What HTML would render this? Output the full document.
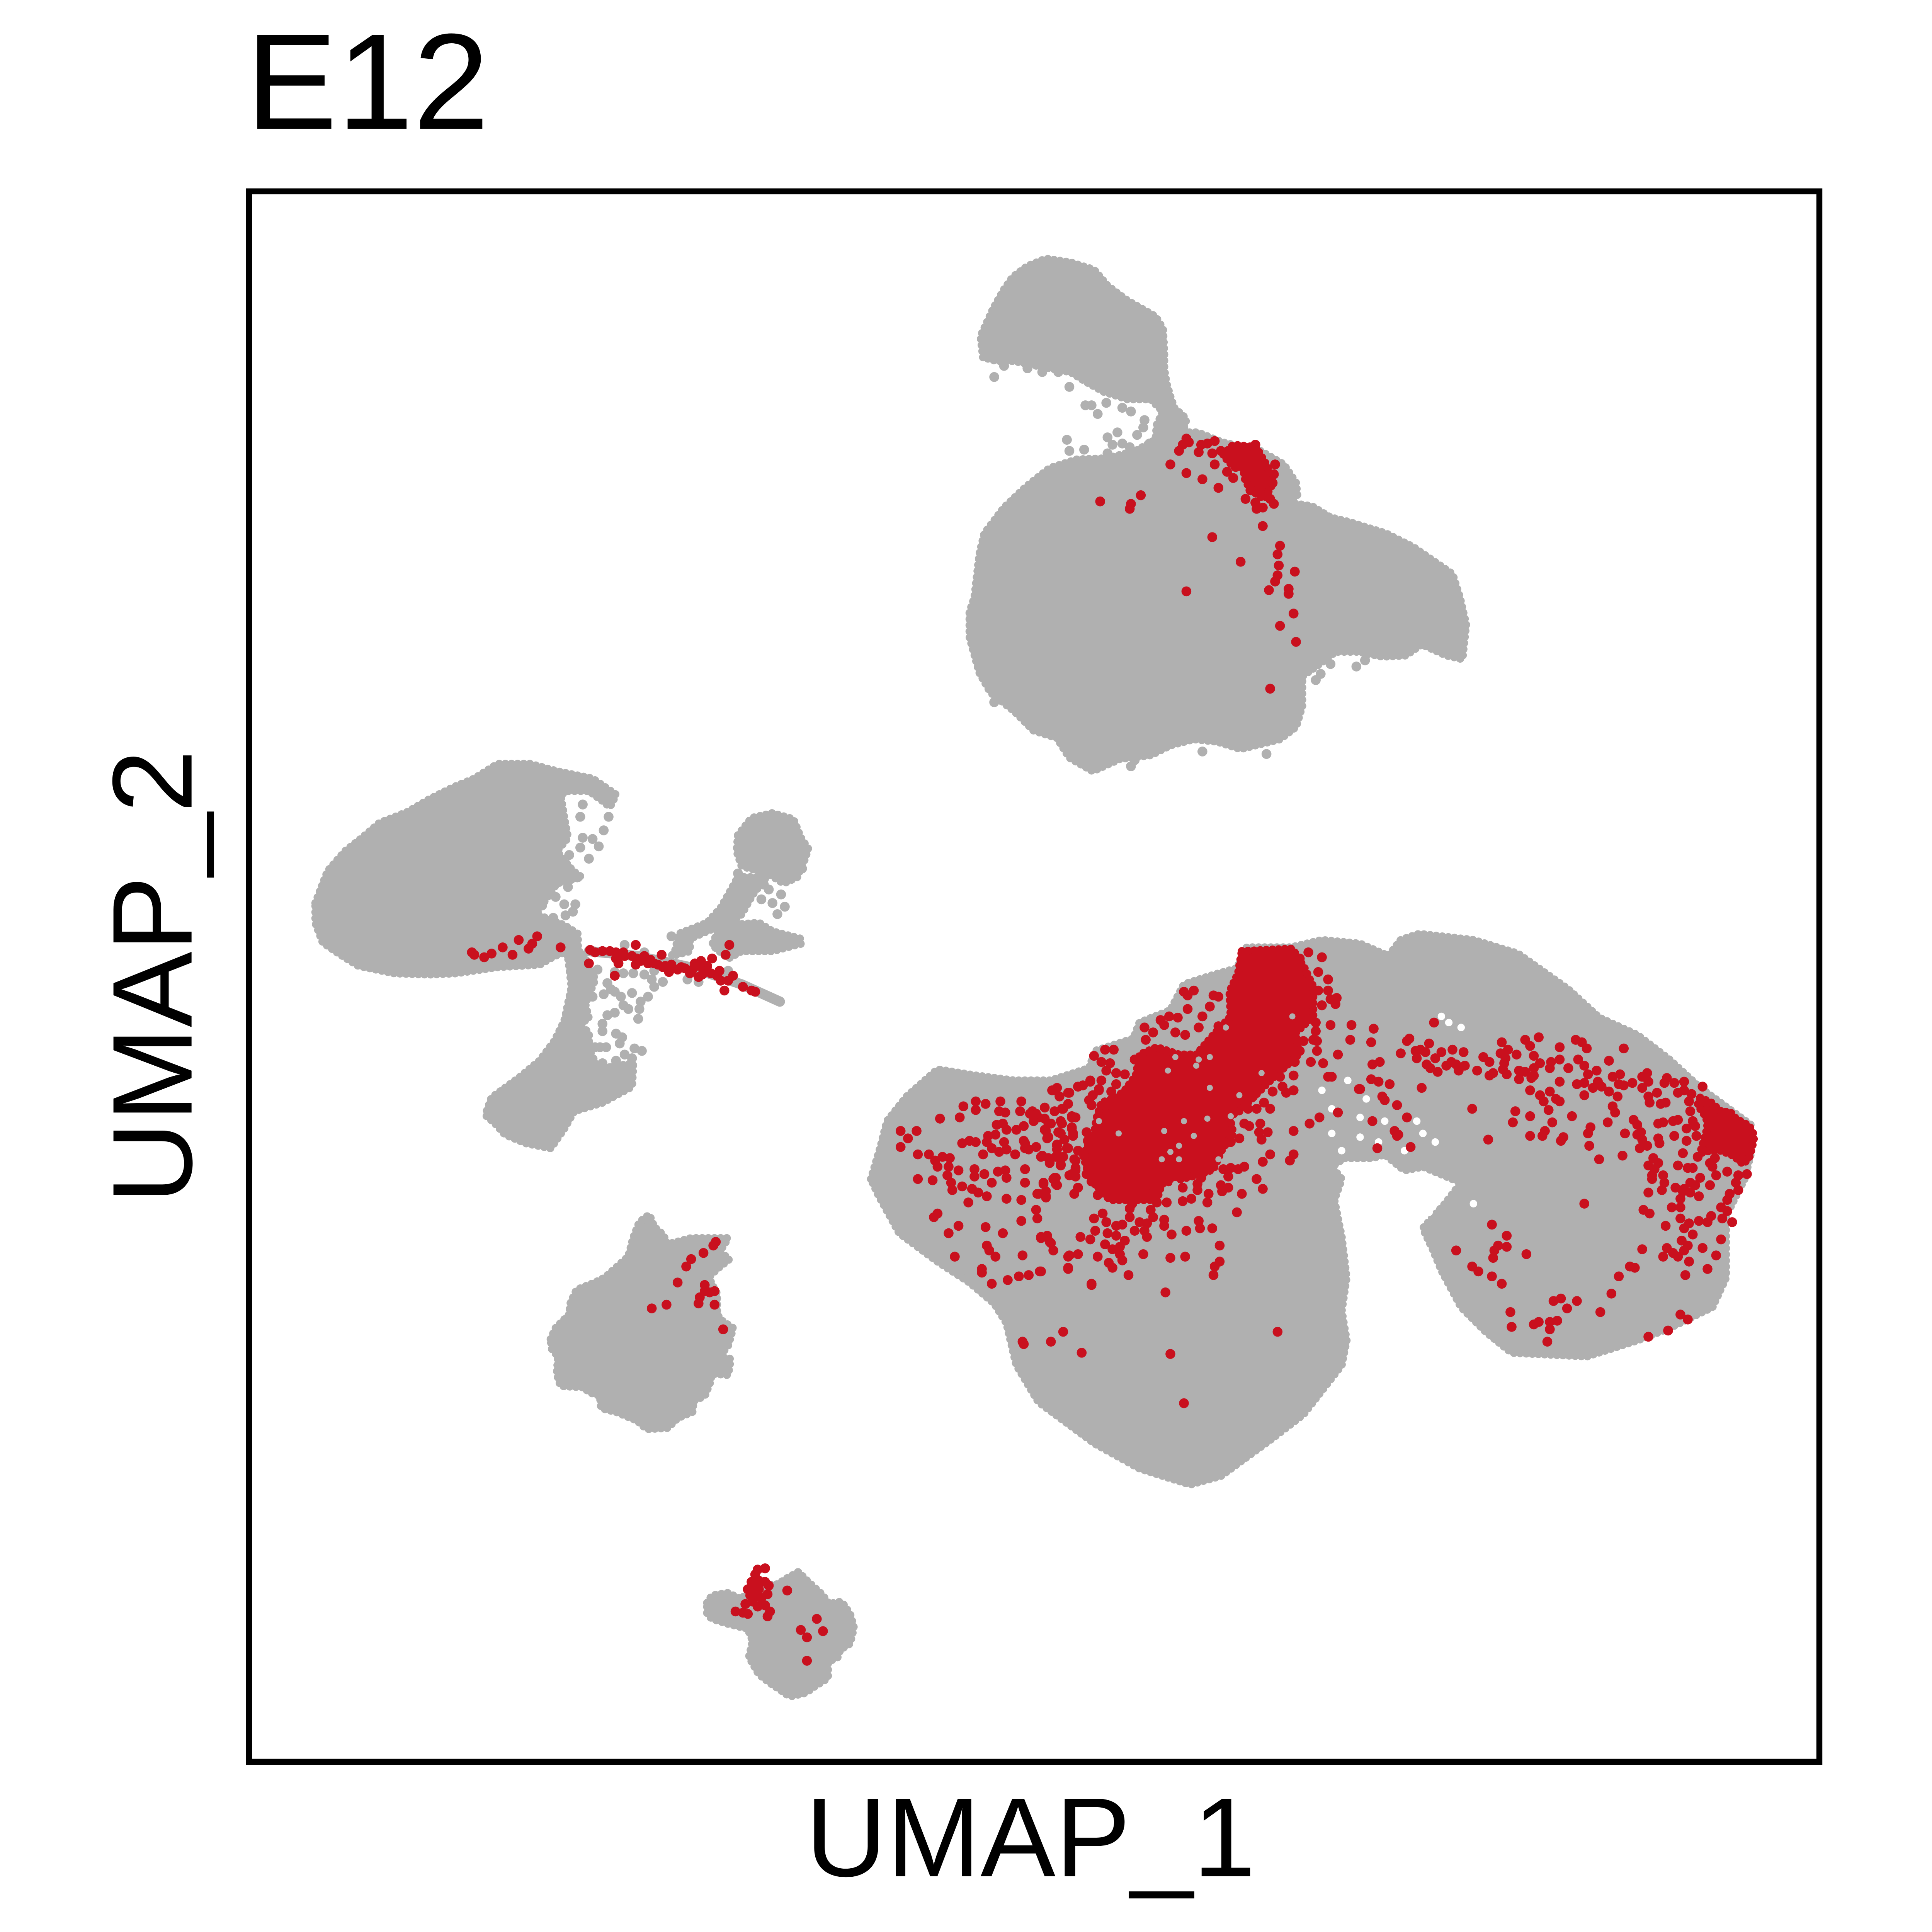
<!DOCTYPE html>
<html lang="en">
<head>
<meta charset="utf-8">
<title>E12 UMAP</title>
<style>
html,body{margin:0;padding:0;background:#fff;width:100%;height:100%;overflow:hidden;}
svg{display:block;position:absolute;left:0;top:0;width:100vw;height:100vh;}
text{font-family:"Liberation Sans",Arial,sans-serif;fill:#000;}
</style>
</head>
<body>
<svg id="chart" xmlns="http://www.w3.org/2000/svg" viewBox="0 0 5669 5669" preserveAspectRatio="none">
  <rect x="0" y="0" width="5669" height="5669" fill="#fff"/>
  <g id="marks"></g>
  <rect x="730.5" y="561.5" width="4608" height="4608" fill="none" stroke="#000" stroke-width="17.5"/>
  <text x="722" y="378" font-size="401">E12</text>
  <text x="3024" y="5505" font-size="330" text-anchor="middle">UMAP_1</text>
  <text x="562" y="2866" font-size="333" text-anchor="middle" transform="rotate(-90 562 2866)">UMAP_2</text>
</svg>
<script>
const xDomain=[-6.38,6.35];
const yDomain=[-6.382,6.348];

const grayTopRegion=[[-0.42,5.00],[-0.44,5.17],[-0.34,5.39],[-0.25,5.55],[-0.18,5.65],[-0.06,5.74],[0.09,5.80],[0.29,5.77],[0.48,5.71],[0.59,5.58],[0.75,5.46],[0.98,5.33],[1.04,5.23],[1.05,5.03],[1.05,4.90],[1.07,4.78],[1.10,4.68],[1.13,4.59],[1.23,4.50],[1.20,4.39],[1.32,4.39],[1.52,4.31],[1.83,4.24],[2.02,4.13],[2.12,3.98],[2.13,3.88],[2.06,3.82],[2.25,3.79],[2.40,3.70],[2.56,3.66],[2.85,3.57],[3.07,3.46],[3.23,3.35],[3.39,3.24],[3.45,3.05],[3.50,2.83],[3.47,2.55],[3.34,2.58],[3.14,2.67],[3.01,2.58],[2.82,2.57],[2.63,2.61],[2.44,2.61],[2.31,2.51],[2.17,2.41],[2.17,2.17],[2.12,2.00],[1.99,1.90],[1.67,1.82],[1.48,1.88],[1.29,1.90],[1.10,1.85],[0.94,1.77],[0.69,1.74],[0.47,1.64],[0.28,1.75],[0.18,1.91],[-0.01,1.97],[-0.17,2.13],[-0.36,2.28],[-0.45,2.44],[-0.53,2.73],[-0.53,2.93],[-0.49,3.05],[-0.45,3.40],[-0.41,3.57],[-0.25,3.78],[-0.07,3.95],[0.12,4.10],[0.34,4.17],[0.59,4.18],[0.82,4.24],[0.98,4.33],[0.99,4.45],[1.04,4.56],[0.94,4.66],[0.75,4.66],[0.56,4.72],[0.40,4.81],[0.29,4.88],[0.18,4.90],[0.02,4.93],[-0.17,4.97],[-0.31,4.97]];
const grayLeftOval=[[-5.84,0.57],[-5.74,0.83],[-5.60,0.99],[-5.46,1.10],[-5.32,1.22],[-5.09,1.31],[-4.92,1.41],[-4.72,1.51],[-4.55,1.58],[-4.36,1.70],[-4.10,1.70],[-3.88,1.64],[-3.59,1.58],[-3.40,1.45],[-3.45,1.35],[-3.51,1.40],[-3.62,1.48],[-3.79,1.48],[-3.85,1.45],[-3.82,1.26],[-3.79,1.10],[-3.88,0.99],[-3.75,0.83],[-3.68,0.78],[-3.88,0.73],[-3.99,0.57],[-4.05,0.48],[-3.82,0.39],[-3.71,0.32],[-3.71,0.21],[-3.90,0.14],[-4.02,0.07],[-4.36,0.05],[-4.70,0.00],[-4.92,-0.01],[-5.20,0.00],[-5.49,0.06],[-5.65,0.16],[-5.78,0.25],[-5.84,0.41]];
const grayLowerArm=[[-3.79,0.14],[-3.68,0.18],[-3.57,-0.05],[-3.65,-0.25],[-3.62,-0.37],[-3.71,-0.41],[-3.62,-0.48],[-3.62,-0.62],[-3.54,-0.78],[-3.26,-0.73],[-3.27,-0.92],[-3.51,-1.05],[-3.74,-1.12],[-3.82,-1.26],[-3.93,-1.42],[-4.13,-1.38],[-4.30,-1.31],[-4.38,-1.22],[-4.46,-1.15],[-4.41,-1.01],[-4.19,-0.85],[-4.02,-0.71],[-3.90,-0.55],[-3.82,-0.39],[-3.76,-0.11]];
const grayRoundHead=[[-2.41,1.12],[-2.30,1.26],[-2.13,1.30],[-1.96,1.25],[-1.90,1.10],[-1.84,1.01],[-1.87,0.92],[-1.93,0.78],[-2.04,0.73],[-2.15,0.80],[-2.24,0.83],[-2.38,0.87],[-2.42,0.99]];
const grayUpperArm=[[-2.41,0.78],[-2.18,0.78],[-2.29,0.64],[-2.38,0.48],[-2.49,0.39],[-2.24,0.41],[-2.13,0.34],[-1.90,0.28],[-1.90,0.24],[-2.13,0.18],[-2.38,0.18],[-2.49,0.12],[-2.62,0.23],[-2.55,0.39],[-2.80,0.28],[-2.80,0.18],[-2.95,0.14],[-2.92,0.18],[-2.89,0.32],[-2.66,0.41],[-2.55,0.53],[-2.47,0.67]];
const graySouthWest=[[-3.93,-2.97],[-3.89,-2.88],[-3.78,-2.77],[-3.77,-2.68],[-3.72,-2.57],[-3.57,-2.51],[-3.49,-2.47],[-3.40,-2.39],[-3.30,-2.30],[-3.26,-2.15],[-3.21,-2.02],[-3.13,-1.96],[-3.09,-2.06],[-3.02,-2.12],[-2.98,-2.20],[-2.79,-2.15],[-2.62,-2.15],[-2.49,-2.15],[-2.56,-2.26],[-2.48,-2.32],[-2.58,-2.40],[-2.64,-2.46],[-2.63,-2.51],[-2.58,-2.60],[-2.58,-2.77],[-2.54,-2.82],[-2.45,-2.88],[-2.49,-3.02],[-2.56,-3.11],[-2.47,-3.13],[-2.49,-3.26],[-2.62,-3.25],[-2.64,-3.33],[-2.68,-3.43],[-2.77,-3.47],[-2.78,-3.56],[-2.90,-3.61],[-2.98,-3.69],[-3.15,-3.70],[-3.23,-3.63],[-3.40,-3.56],[-3.52,-3.53],[-3.53,-3.43],[-3.62,-3.40],[-3.66,-3.36],[-3.85,-3.35],[-3.88,-3.25],[-3.87,-3.11],[-3.92,-3.05]];
const graySouth=[[-2.66,-5.11],[-2.62,-5.05],[-2.49,-5.03],[-2.39,-5.08],[-2.24,-4.97],[-2.09,-4.96],[-2.01,-4.91],[-1.92,-4.86],[-1.84,-4.94],[-1.73,-5.04],[-1.67,-5.12],[-1.57,-5.10],[-1.50,-5.20],[-1.47,-5.31],[-1.50,-5.44],[-1.58,-5.49],[-1.60,-5.55],[-1.68,-5.59],[-1.68,-5.72],[-1.79,-5.79],[-1.86,-5.84],[-1.99,-5.87],[-2.09,-5.80],[-2.15,-5.76],[-2.24,-5.69],[-2.32,-5.55],[-2.29,-5.42],[-2.33,-5.32],[-2.49,-5.28],[-2.62,-5.24],[-2.66,-5.20]];
const grayMainRegion=[[-1.33,-1.67],[-1.25,-1.40],[-1.20,-1.20],[-1.04,-1.00],[-0.79,-0.78],[-0.48,-0.83],[-0.17,-0.87],[0.13,-0.87],[0.44,-0.77],[0.49,-0.63],[0.80,-0.53],[0.85,-0.40],[1.10,-0.30],[1.21,-0.09],[1.46,-0.01],[1.64,0.04],[1.72,0.21],[2.08,0.21],[2.33,0.27],[2.64,0.24],[2.87,0.14],[2.97,0.27],[3.12,0.32],[3.56,0.27],[3.92,0.16],[4.33,-0.13],[4.58,-0.36],[4.89,-0.50],[5.15,-0.70],[5.40,-0.93],[5.81,-1.23],[5.81,-1.47],[5.76,-1.67],[5.61,-1.97],[5.61,-2.47],[5.50,-2.71],[5.15,-2.88],[4.89,-2.98],[4.48,-3.11],[3.87,-3.08],[3.66,-2.91],[3.46,-2.71],[3.30,-2.41],[3.23,-2.24],[3.15,-2.07],[3.33,-1.87],[3.46,-1.70],[3.15,-1.57],[3.00,-1.60],[2.84,-1.47],[2.74,-1.50],[2.51,-1.50],[2.41,-1.57],[2.49,-1.67],[2.43,-1.84],[2.49,-2.14],[2.53,-2.47],[2.49,-2.74],[2.53,-2.98],[2.49,-3.18],[2.18,-3.58],[1.92,-3.78],[1.51,-4.08],[1.26,-4.15],[0.85,-4.02],[0.49,-3.82],[0.03,-3.48],[-0.15,-3.18],[-0.23,-2.84],[-0.33,-2.68],[-0.53,-2.51],[-0.79,-2.34],[-1.10,-2.11],[-1.27,-1.80]];

const grayStrandD=[[-3.62,0.18],[-3.23,0.14],[-2.80,0.05],[-2.38,-0.09],[-2.07,-0.23]];

const graySparseTop=[[0.28,4.76],[0.41,4.61],[0.46,4.61],[0.51,4.54],[0.58,4.63],[0.26,4.33],[0.28,4.24],[0.40,4.25],[0.67,4.39],[0.59,4.35],[0.63,4.29],[0.71,4.30],[0.77,4.27],[0.59,4.22],[0.71,4.59],[0.78,4.56],[0.83,4.37],[0.88,4.43],[0.89,4.49],[0.93,4.30],[0.85,4.24],[2.61,2.49],[2.68,2.54],[2.32,2.43],[2.28,2.38],[2.40,2.51],[1.88,1.78],[1.36,1.80],[0.81,1.73],[0.78,1.68],[0.70,1.76],[0.16,1.96],[-0.33,2.20],[-0.33,4.84],[-0.25,4.93],[-0.06,4.91],[0.06,4.88],[0.19,4.88]];
const graySparseLeft=[[-3.69,1.27],[-3.67,1.37],[-3.46,1.27],[-3.50,1.16],[-3.59,1.09],[-3.67,1.10],[-3.69,1.02],[-3.78,0.96],[-3.54,1.03],[-3.62,0.93],[-3.89,0.62],[-3.82,0.56],[-3.73,0.56],[-3.81,0.47],[-3.75,0.50],[-3.79,0.70],[-3.71,0.78],[-3.88,0.75],[-3.99,0.64],[-4.00,0.55],[-3.90,1.08],[-3.99,1.12],[-3.91,0.45],[-2.95,0.30],[-3.21,-0.29],[-3.22,-0.37],[-3.50,-0.17],[-3.36,-0.19],[-3.19,-0.63],[-3.25,-0.61],[-3.57,-0.60],[-3.53,-0.60],[-3.48,-0.60],[-3.51,-0.47],[-3.59,-0.19],[-2.22,0.60],[-2.06,0.64],[-2.13,0.57],[-2.03,0.54],[-2.09,0.48],[-2.16,0.68],[-2.20,0.72],[-1.89,0.85],[-2.41,0.81]];
const graySparseMesh=[[-3.27,-0.16],[-3.34,-0.26],[-3.41,-0.32],[-3.47,-0.34],[-3.09,-0.11],[-3.02,-0.07],[-3.17,-0.01],[-3.26,0.00],[-3.34,0.00],[-3.41,0.01],[-3.33,0.23],[-3.17,0.17],[-3.09,0.02],[-2.82,-0.05],[-2.73,-0.07],[-2.49,0.02],[-3.40,-0.49],[-3.35,-0.52],[-3.37,-0.57],[-3.33,-0.66],[-3.27,-0.69],[-3.40,-0.71],[-3.51,-0.73],[-3.45,-0.77],[-3.44,-0.13],[-3.41,-0.15],[-3.55,0.03],[-3.59,-0.06],[-3.47,-0.08],[-3.14,-0.19],[-3.30,-0.29],[-3.11,-0.05],[-3.20,-0.23],[-3.51,-0.41]];
const emptyGaps=[[2.33,-0.95],[2.54,-0.87],[2.69,-1.02],[2.41,-1.10],[2.64,-1.17],[2.41,-1.30],[2.84,-1.20],[2.64,-1.33],[3.10,-1.20],[3.15,-1.30],[3.00,-1.44],[3.25,-1.37],[2.79,-1.37],[2.49,-1.44],[3.36,-0.40],[3.46,-0.44],[3.30,-0.35],[3.56,-1.87],[3.35,-1.74],[3.20,-1.94]];

const redCoreRegion=[[1.68,0.18],[2.09,0.20],[2.19,0.04],[2.26,-0.11],[2.26,-0.35],[2.12,-0.48],[2.14,-0.66],[2.02,-0.77],[1.89,-0.89],[1.75,-1.03],[1.66,-1.12],[1.58,-1.16],[1.61,-1.30],[1.52,-1.43],[1.45,-1.59],[1.35,-1.63],[1.03,-1.71],[0.99,-1.84],[0.61,-1.84],[0.50,-1.73],[0.43,-1.61],[0.39,-1.47],[0.48,-1.32],[0.50,-1.18],[0.54,-1.05],[0.66,-1.01],[0.73,-0.95],[0.82,-0.83],[0.85,-0.66],[0.99,-0.60],[1.17,-0.66],[1.31,-0.66],[1.45,-0.50],[1.59,-0.35],[1.58,-0.15],[1.65,0.00]];
const redTipRegion=[[5.40,-1.01],[5.49,-1.05],[5.58,-1.13],[5.64,-1.12],[5.69,-1.18],[5.80,-1.24],[5.84,-1.32],[5.82,-1.42],[5.80,-1.49],[5.75,-1.55],[5.67,-1.48],[5.57,-1.44],[5.48,-1.44],[5.40,-1.46],[5.43,-1.36],[5.46,-1.25],[5.45,-1.17],[5.38,-1.07]];
const redTopRegion=[[1.53,4.21],[1.61,4.29],[1.80,4.27],[1.83,4.21],[1.89,4.11],[1.92,3.95],[1.86,3.85],[1.77,3.91],[1.71,3.99],[1.69,4.10],[1.58,4.14]];
const grayCoreFlecks=[[1.31,-0.75],[1.40,-1.18],[1.29,-1.32],[1.17,-1.40],[1.10,-1.45],[1.03,-1.51],[1.14,-1.71],[1.05,-1.28],[1.14,-0.68],[1.33,-0.70],[1.42,-0.68],[1.55,-0.44],[1.08,-0.79],[1.42,-0.93],[1.66,-0.99],[1.59,-1.16],[1.49,-1.51],[1.21,-1.20],[0.68,-1.30],[0.52,-1.20],[2.09,-0.35],[1.84,-0.81],[1.17,-1.51]];

const redRightLobe=[[3.24,-0.40],[3.04,-0.53],[3.02,-0.55],[3.20,-0.57],[3.09,-0.63],[3.13,-0.62],[3.17,-0.64],[3.10,-0.69],[2.97,-0.65],[3.25,-0.69],[3.30,-0.64],[3.39,-0.62],[3.48,-0.64],[3.18,-0.74],[3.21,-0.77],[3.27,-0.80],[3.34,-0.75],[3.38,-0.72],[3.42,-0.74],[3.44,-0.79],[3.49,-0.75],[3.59,-0.79],[3.64,-0.68],[3.69,-0.72],[3.79,-0.56],[3.84,-0.62],[3.78,-0.65],[3.91,-0.66],[3.82,-0.69],[3.81,-0.73],[3.80,-0.78],[3.83,-0.82],[3.72,-0.81],[3.69,-0.83],[3.98,-0.54],[4.02,-0.59],[4.09,-0.52],[4.05,-0.67],[4.10,-0.73],[4.05,-0.77],[3.93,-0.79],[3.98,-0.80],[3.93,-0.86],[4.03,-0.85],[4.05,-0.83],[4.18,-0.77],[4.19,-0.72],[4.26,-0.70],[4.26,-0.60],[4.39,-0.54],[4.44,-0.56],[4.48,-0.61],[4.41,-0.70],[4.46,-0.75],[4.33,-0.77],[4.26,-0.88],[4.02,-0.95],[4.10,-0.99],[4.13,-1.04],[4.18,-0.96],[4.23,-1.02],[4.26,-1.04],[4.17,-1.11],[4.40,-0.90],[4.46,-0.89],[4.46,-0.99],[4.49,-0.82],[4.56,-0.79],[4.53,-0.93],[4.57,-0.88],[4.60,-0.92],[4.66,-0.96],[4.69,-0.84],[4.75,-0.82],[4.74,-0.90],[4.78,-0.91],[4.85,-0.89],[4.66,-0.71],[4.78,-0.61],[4.73,-1.00],[4.69,-1.08],[4.71,-1.13],[4.93,-0.84],[4.97,-0.81],[4.98,-0.88],[4.93,-0.93],[4.98,-1.00],[5.05,-0.97],[4.99,-1.05],[5.08,-1.06],[5.12,-1.05],[5.11,-0.89],[5.13,-0.85],[5.19,-0.89],[5.27,-0.88],[5.22,-0.97],[5.27,-0.95],[5.42,-0.92],[5.33,-0.98],[5.31,-1.04],[5.32,-1.12],[3.14,-0.93],[3.55,-1.10],[3.90,-1.12],[4.02,-1.16],[3.88,-1.21],[4.20,-1.21],[4.36,-1.16],[4.14,-1.28],[4.12,-1.32],[4.02,-1.32],[4.29,-1.33],[4.27,-1.36],[4.51,-1.25],[4.49,-1.30],[4.50,-1.40],[4.65,-1.21],[4.79,-1.30],[4.86,-1.19],[4.89,-1.23],[4.92,-1.29],[4.89,-1.31],[4.93,-1.35],[4.91,-1.42],[4.97,-1.40],[5.06,-1.22],[5.10,-1.21],[5.18,-1.20],[5.22,-1.19],[5.34,-1.20],[5.36,-1.24],[5.29,-1.26],[5.19,-1.32],[5.29,-1.36],[5.37,-1.32],[5.06,-1.34],[5.07,-1.38],[5.26,-1.46],[4.77,-1.48],[4.58,-1.51],[5.02,-1.50],[5.06,-1.54],[4.98,-1.56],[5.03,-1.59],[5.22,-1.56],[5.30,-1.58],[5.34,-1.58],[5.38,-1.49],[5.52,-1.50],[5.48,-1.54],[5.50,-1.57],[5.62,-1.61],[5.78,-1.63],[5.71,-1.64],[5.53,-1.64],[5.40,-1.66],[5.48,-1.72],[5.01,-1.64],[5.01,-1.67],[5.10,-1.64],[5.11,-1.70],[5.09,-1.76],[4.98,-1.78],[5.20,-1.74],[5.27,-1.75],[5.32,-1.70],[5.36,-1.72],[5.32,-1.78],[5.26,-1.77],[5.39,-1.81],[5.24,-1.83],[5.69,-1.70],[5.71,-1.76],[5.64,-1.79],[5.62,-1.84],[5.57,-1.90],[5.62,-1.93],[5.58,-1.99],[5.66,-2.02],[5.17,-1.90],[5.24,-1.90],[4.94,-1.92],[4.99,-1.95],[5.24,-1.99],[5.12,-2.05],[5.31,-2.03],[5.27,-2.07],[5.39,-2.01],[5.46,-2.02],[5.49,-1.97],[5.34,-2.12],[5.57,-2.16],[5.25,-2.17],[5.30,-2.21],[5.27,-2.25],[5.42,-2.23],[5.53,-2.29],[5.13,-2.23],[5.18,-2.27],[5.10,-2.30],[5.22,-2.30],[5.31,-2.34],[5.46,-2.40],[5.28,-2.45],[4.93,-2.24],[4.83,-2.38],[4.87,-2.39],[4.74,-2.46],[4.68,-2.60],[4.59,-2.75],[5.24,-2.77],[5.30,-2.81],[5.14,-2.90],[4.98,-2.95],[4.46,-1.87],[4.40,-2.66],[4.27,-2.64],[4.21,-2.66],[4.32,-2.72],[4.24,-2.82],[4.18,-2.83],[4.18,-2.89],[4.09,-2.83],[4.05,-2.85],[4.16,-2.99],[3.87,-2.87],[3.86,-2.75],[3.42,-2.25],[3.55,-2.38],[3.60,-2.42],[3.71,-2.46],[3.79,-2.52],[3.71,-2.04],[3.83,-2.13],[3.83,-2.22],[3.76,-2.21],[3.73,-2.25],[3.72,-2.31],[3.99,-2.28],[3.02,-1.17],[2.94,-1.07],[2.95,-1.31],[3.05,-1.41],[3.68,-1.35]];
const redLeftLobe=[[-0.77,-1.18],[-1.09,-1.28],[-0.96,-1.28],[-1.03,-1.34],[-1.09,-1.41],[-0.95,-1.47],[-0.86,-1.47],[-0.81,-1.52],[-0.75,-1.49],[-0.69,-1.50],[-0.79,-1.57],[-0.70,-1.57],[-0.62,-1.60],[-0.71,-1.64],[-0.95,-1.67],[-0.83,-1.68],[-0.68,-1.70],[-0.67,-1.76],[-0.59,-1.73],[-0.51,-1.75],[-0.46,-1.78],[-0.39,-1.81],[-0.54,-1.86],[-0.49,-1.59],[-0.49,-1.65],[-0.41,-1.63],[-0.35,-1.70],[-0.30,-1.61],[-0.24,-1.60],[-0.23,-1.66],[-0.08,-1.59],[-0.08,-1.70],[-0.23,-1.83],[-0.11,-1.84],[0.07,-1.70],[0.16,-1.66],[0.17,-1.71],[0.03,-1.79],[0.09,-1.81],[0.32,-1.79],[0.35,-1.74],[-0.58,-1.08],[-0.48,-1.04],[-0.40,-1.06],[-0.48,-1.11],[-0.61,-1.17],[-0.28,-1.04],[-0.11,-1.04],[-0.29,-1.12],[-0.24,-1.13],[-0.31,-1.23],[-0.26,-1.22],[-0.23,-1.27],[-0.38,-1.32],[-0.32,-1.31],[-0.39,-1.37],[-0.53,-1.36],[-0.59,-1.38],[-0.48,-1.37],[-0.25,-1.37],[-0.42,-1.47],[-0.35,-1.42],[-0.29,-1.45],[-0.23,-1.43],[-0.16,-1.47],[-0.09,-1.36],[-0.08,-1.42],[0.01,-1.41],[0.06,-1.48],[0.11,-1.50],[0.21,-1.55],[-0.12,-1.12],[-0.02,-1.12],[0.03,-1.17],[0.11,-1.22],[0.21,-1.20],[-0.15,-1.27],[-0.09,-1.24],[0.08,-1.27],[0.11,-1.33],[0.21,-1.30],[0.18,-1.40],[0.26,-1.42],[0.31,-1.30],[0.30,-1.25],[0.30,-1.16],[0.16,-0.95],[0.28,-0.97],[0.35,-0.92],[0.45,-0.87],[0.22,-1.10],[0.44,-1.03],[0.52,-0.95],[0.33,-1.52],[0.33,-1.60],[0.40,-1.48],[0.30,-1.63],[0.42,-1.29],[0.44,-1.35],[-0.40,-2.06],[-0.26,-2.11],[-0.62,-2.05],[-0.70,-2.11],[-0.79,-1.95],[-0.82,-1.98],[-0.65,-2.30],[-0.39,-2.21],[-0.37,-2.25],[-0.32,-2.30],[-0.10,-2.29],[-0.11,-2.01],[-0.43,-2.40],[-0.43,-2.43],[-0.35,-2.52],[-0.22,-2.49],[-0.13,-2.46],[0.05,-2.14],[0.10,-2.14],[0.12,-2.18],[0.28,-2.29],[0.05,-2.42],[0.27,-2.39],[0.46,-2.52]];
const redCoreFringe=[[1.21,-0.15],[1.29,-0.14],[1.24,-0.18],[1.45,-0.18],[1.49,-0.19],[1.24,-0.29],[1.36,-0.35],[1.42,-0.27],[1.16,-0.36],[1.09,-0.35],[1.02,-0.38],[1.33,-0.44],[1.49,-0.43],[0.89,-0.44],[0.96,-0.48],[0.90,-0.54],[1.05,-0.42],[1.14,-0.48],[1.22,-0.50],[0.48,-0.67],[0.57,-0.62],[0.64,-0.62],[0.61,-0.73],[0.54,-0.72],[0.58,-0.79],[0.66,-0.81],[0.73,-0.82],[0.81,-0.70],[0.54,-0.87],[0.66,-0.90],[0.45,-0.88],[0.35,-0.92],[0.39,-0.91],[0.52,-0.94],[0.62,-0.96],[0.47,-0.99],[0.46,-1.07],[0.58,-1.07],[0.14,-0.95],[0.18,-0.93],[0.20,-1.00],[0.27,-0.97],[0.27,-1.06],[0.23,-1.10],[0.16,-1.12],[0.08,-1.09],[0.01,-1.14],[-0.04,-1.14],[0.08,-1.18],[0.22,-1.22],[0.30,-1.17],[0.33,-1.17],[-0.01,-1.20],[0.13,-1.22],[0.09,-1.28],[0.30,-1.26],[0.10,-1.34],[0.19,-1.29],[0.31,-1.32],[0.42,-1.29],[0.43,-1.36],[0.24,-1.35],[0.18,-1.39],[0.18,-1.43],[0.27,-1.42],[0.35,-1.44],[0.01,-1.41],[-0.08,-1.38],[-0.05,-1.43],[0.05,-1.49],[0.12,-1.54],[0.17,-1.49],[0.23,-1.49],[0.21,-1.56],[0.32,-1.51],[0.33,-1.58],[0.28,-1.64],[0.33,-1.65],[0.42,-1.63],[0.46,-1.69],[0.17,-1.66],[0.15,-1.67],[0.18,-1.72],[0.07,-1.71],[0.35,-1.74],[0.32,-1.79],[0.02,-1.79],[0.09,-1.77],[0.09,-1.82],[0.01,-1.92],[0.02,-1.99],[0.52,-1.73],[0.56,-1.74],[0.51,-1.80],[1.53,-1.59],[1.59,-1.58],[1.70,-1.57],[1.65,-1.59],[1.57,-1.65],[1.80,-1.67],[1.85,-1.75],[1.51,-1.72],[1.57,-1.74],[1.52,-1.77],[1.68,-1.79],[1.64,-1.94],[1.41,-1.79],[1.40,-1.86],[1.32,-1.71],[1.32,-1.76],[1.35,-1.66],[1.27,-1.83],[1.20,-1.74],[1.20,-1.85],[1.07,-1.86],[0.99,-1.86],[0.91,-1.79],[0.84,-1.82],[0.79,-1.87],[0.77,-1.91],[0.94,-1.92],[1.66,-1.34],[1.59,-1.37],[1.74,-1.24],[1.70,-1.22],[1.83,-1.22],[1.89,-1.29],[1.82,-1.29],[1.84,-1.35],[1.91,-1.10],[1.86,-1.05],[1.77,-1.00],[1.73,-1.10],[1.80,-1.10],[1.93,-0.96],[2.04,-0.97],[2.10,-0.95],[2.01,-0.92],[2.10,-0.83],[1.99,-0.84],[2.02,-0.75],[2.11,-0.72],[2.24,-0.72],[2.34,-0.73],[2.29,-0.63],[2.15,-0.63],[2.29,-0.55],[2.26,-0.54],[2.18,-0.55],[2.28,-0.47],[2.28,-0.40],[2.40,-0.42],[2.57,-0.42],[2.56,-0.54],[2.46,-0.66],[2.38,-0.84],[2.41,-0.84],[2.63,-0.94],[2.46,-1.13],[2.31,-1.17],[2.23,-1.22],[2.10,-1.28],[2.10,-1.47],[2.07,-1.52],[1.91,-1.47],[1.85,-1.53],[2.22,0.17],[2.33,0.13],[2.15,0.12],[2.30,0.01],[2.38,-0.05],[2.38,-0.14],[2.30,-0.14],[2.45,-0.20],[2.44,-0.25],[2.40,-0.21],[2.33,-0.26],[2.74,-0.74],[2.80,-0.72],[2.73,-0.56],[2.75,-0.45],[2.73,-0.86],[2.79,-0.88],[2.88,-0.90],[2.64,-0.94],[2.82,-1.00],[2.84,-1.03],[2.94,-1.07],[2.74,-1.20],[2.92,-1.28],[2.94,-1.32],[2.78,-1.42]];
const redBelowCore=[[0.48,-1.99],[0.55,-1.95],[0.58,-2.02],[0.49,-2.09],[0.37,-2.14],[0.45,-2.16],[0.59,-2.11],[0.66,-2.13],[0.71,-2.04],[0.66,-2.05],[0.81,-2.09],[0.73,-2.17],[0.77,-1.98],[0.85,-2.02],[0.96,-1.98],[0.91,-2.03],[0.89,-2.09],[0.91,-2.14],[1.05,-2.00],[1.05,-2.05],[1.11,-2.12],[1.23,-2.09],[1.33,-2.01],[1.34,-2.07],[1.44,-2.07],[1.50,-2.21],[1.50,-2.34],[1.46,-2.38],[1.45,-2.45],[0.57,-2.20],[0.63,-2.24],[0.69,-2.22],[0.69,-2.28],[0.71,-2.33],[0.60,-2.35],[0.63,-2.39],[0.51,-2.30],[0.88,-2.28],[1.10,-2.31],[1.22,-2.30],[0.35,-2.28],[0.27,-2.30],[0.27,-2.40],[0.15,-2.25],[0.13,-2.19],[0.05,-2.15],[0.10,-2.13],[0.04,-2.42],[-0.05,-2.45],[0.76,-2.45],[0.46,-2.53],[1.06,-2.59]];
const redBottomLone=[[0.23,-2.91],[0.13,-2.99],[-0.10,-2.99],[-0.09,-3.01],[0.38,-3.08],[1.10,-3.09],[1.97,-2.91],[1.21,-3.49]];
const redTopCluster=[[1.23,4.34],[1.25,4.31],[1.20,4.29],[1.17,4.24],[1.33,4.23],[1.35,4.29],[1.40,4.30],[1.46,4.32],[1.44,4.22],[1.46,4.13],[1.51,4.24],[1.10,4.13],[1.23,4.06],[1.36,4.01],[1.49,3.94],[1.61,4.02],[1.56,4.07],[1.63,4.11],[1.79,4.29],[1.95,4.13],[1.94,4.05],[1.93,3.98],[1.71,3.85],[1.79,3.82],[1.80,3.77],[1.85,3.78],[1.85,3.63],[1.94,3.81],[1.91,3.85],[1.75,3.92],[1.44,3.54],[1.67,3.34],[1.23,3.10],[0.53,3.83],[0.78,3.81],[0.77,3.77],[0.86,3.88],[1.99,3.47],[1.97,3.40],[1.98,3.31],[1.97,3.23],[1.95,3.18],[2.11,3.26],[1.90,3.11],[2.06,3.12],[2.06,3.08],[2.10,2.92],[1.99,2.82],[2.12,2.69],[1.91,2.31]];
const redWestCluster=[[-4.57,0.17],[-4.55,0.15],[-4.47,0.13],[-4.41,0.16],[-4.32,0.21],[-4.24,0.15],[-4.19,0.27],[-4.04,0.30],[-4.08,0.24],[-4.11,0.20],[-3.85,0.21],[-3.62,0.08],[-3.61,0.19],[-3.41,-0.02],[-3.24,0.23],[-3.03,0.15],[-2.48,0.23],[-2.51,0.15],[-2.52,-0.14],[-2.37,-0.11],[-2.30,-0.14],[-2.27,-0.15]];
const redWestStreak=[[-3.57,0.17],[-3.51,0.18],[-3.45,0.18],[-3.40,0.17],[-3.34,0.17],[-3.38,0.08],[-3.40,0.12],[-3.33,0.14],[-3.27,0.14],[-3.23,0.12],[-3.24,0.07],[-3.17,0.14],[-3.14,0.08],[-3.09,0.08],[-3.02,0.05],[-2.97,0.01],[-2.95,0.07],[-2.87,0.05],[-2.80,0.00],[-2.76,0.08],[-2.71,0.10],[-2.62,0.12],[-2.73,-0.03],[-2.69,0.03],[-2.63,0.00],[-2.55,-0.06],[-2.49,-0.06],[-2.45,-0.02],[-2.56,0.02],[-2.78,0.03],[-2.66,0.06],[-3.20,0.10],[-3.00,0.06],[-2.90,0.03],[-2.84,0.04],[-3.06,0.07],[-3.12,0.11],[-2.74,0.06],[-2.70,-0.01],[-2.58,-0.02],[-2.66,0.02]];
const redSouthWest=[[-2.59,-2.18],[-2.61,-2.21],[-2.69,-2.27],[-2.79,-2.32],[-2.83,-2.38],[-2.90,-2.51],[-2.68,-2.53],[-2.60,-2.58],[-2.64,-2.59],[-2.68,-2.58],[-2.72,-2.63],[-2.73,-2.68],[-2.60,-2.69],[-2.99,-2.69],[-3.11,-2.72],[-2.53,-2.89]];
const redSouth=[[-2.19,-4.83],[-2.25,-4.84],[-2.27,-4.88],[-2.24,-4.93],[-2.30,-4.94],[-2.19,-4.94],[-2.16,-4.97],[-2.33,-5.00],[-2.27,-4.98],[-2.17,-5.04],[-2.31,-5.05],[-2.25,-5.05],[-2.35,-5.12],[-2.29,-5.10],[-2.25,-5.14],[-2.19,-5.13],[-2.15,-5.18],[-2.17,-5.22],[-2.43,-5.18],[-2.37,-5.19],[-2.33,-5.20],[-2.01,-5.01],[-1.77,-5.24],[-1.72,-5.34],[-1.90,-5.33],[-1.85,-5.39],[-1.85,-5.58],[-2.28,-5.03],[-2.24,-5.00],[-2.22,-5.07]];

const GRAY='#b0b0b0';
const RED='#c9101e';
const SVGNS='http://www.w3.org/2000/svg';
const xRange=[730.3,5332];
const yRange=[5163,561];
function xScale(v){return xRange[0]+(v-xDomain[0])/(xDomain[1]-xDomain[0])*(xRange[1]-xRange[0]);}
function yScale(v){return yRange[0]+(v-yDomain[0])/(yDomain[1]-yDomain[0])*(yRange[1]-yRange[0]);}
const marks=document.getElementById('marks');
function pointString(points){return points.map(function(p){return xScale(p[0]).toFixed(1)+','+yScale(p[1]).toFixed(1);}).join(' ');}
function drawRegion(points,color,name){
  const el=document.createElementNS(SVGNS,'polygon');
  el.setAttribute('points',pointString(points));
  el.setAttribute('fill',color);
  el.setAttribute('stroke',color);
  el.setAttribute('stroke-width','24');
  el.setAttribute('stroke-linecap','round');
  el.setAttribute('stroke-dasharray','0 18');
  
  
  marks.appendChild(el);
}
function drawStrand(points,color,name){
  const el=document.createElementNS(SVGNS,'polyline');
  el.setAttribute('points',pointString(points));
  el.setAttribute('fill','none');
  el.setAttribute('stroke',color);
  el.setAttribute('stroke-width','30');
  el.setAttribute('stroke-linejoin','round');
  el.setAttribute('stroke-linecap','round');
  
  
  marks.appendChild(el);
}
function drawPoints(points,color,name,radius){
  points.forEach(function(p){
    const el=document.createElementNS(SVGNS,'circle');
    el.setAttribute('cx',xScale(p[0]).toFixed(1));
    el.setAttribute('cy',yScale(p[1]).toFixed(1));
    el.setAttribute('r',String(radius));
    el.setAttribute('fill',color);
    
    
    marks.appendChild(el);
  });
}
drawRegion(grayTopRegion,GRAY,'gray-top-cluster');
drawRegion(grayLeftOval,GRAY,'gray-left-cluster');
drawRegion(grayLowerArm,GRAY,'gray-lower-arm');
drawRegion(grayRoundHead,GRAY,'gray-round-head');
drawRegion(grayUpperArm,GRAY,'gray-upper-arm');
drawRegion(graySouthWest,GRAY,'gray-southwest-cluster');
drawRegion(graySouth,GRAY,'gray-south-cluster');
drawRegion(grayMainRegion,GRAY,'gray-main-cluster');
drawStrand(grayStrandD,GRAY,'gray-strand');
drawPoints(graySparseTop,GRAY,'gray-cell-point',14.5);
drawPoints(graySparseLeft,GRAY,'gray-cell-point',14.5);
drawPoints(graySparseMesh,GRAY,'gray-cell-point',14.5);
drawPoints(emptyGaps,'#ffffff','empty-gap',11);
drawRegion(redCoreRegion,RED,'red-core-cells');
drawRegion(redTipRegion,RED,'red-tip-cells');
drawRegion(redTopRegion,RED,'red-top-cells');
drawPoints(grayCoreFlecks,GRAY,'gray-core-fleck',9);
drawPoints(redRightLobe,RED,'red-cell-point',14.5);
drawPoints(redLeftLobe,RED,'red-cell-point',14.5);
drawPoints(redCoreFringe,RED,'red-cell-point',14.5);
drawPoints(redBelowCore,RED,'red-cell-point',14.5);
drawPoints(redBottomLone,RED,'red-cell-point',14.5);
drawPoints(redTopCluster,RED,'red-cell-point',14.5);
drawPoints(redWestCluster,RED,'red-cell-point',14.5);
drawPoints(redWestStreak,RED,'red-cell-point',14.5);
drawPoints(redSouthWest,RED,'red-cell-point',14.5);
drawPoints(redSouth,RED,'red-cell-point',14.5);
</script>
</body>
</html>
